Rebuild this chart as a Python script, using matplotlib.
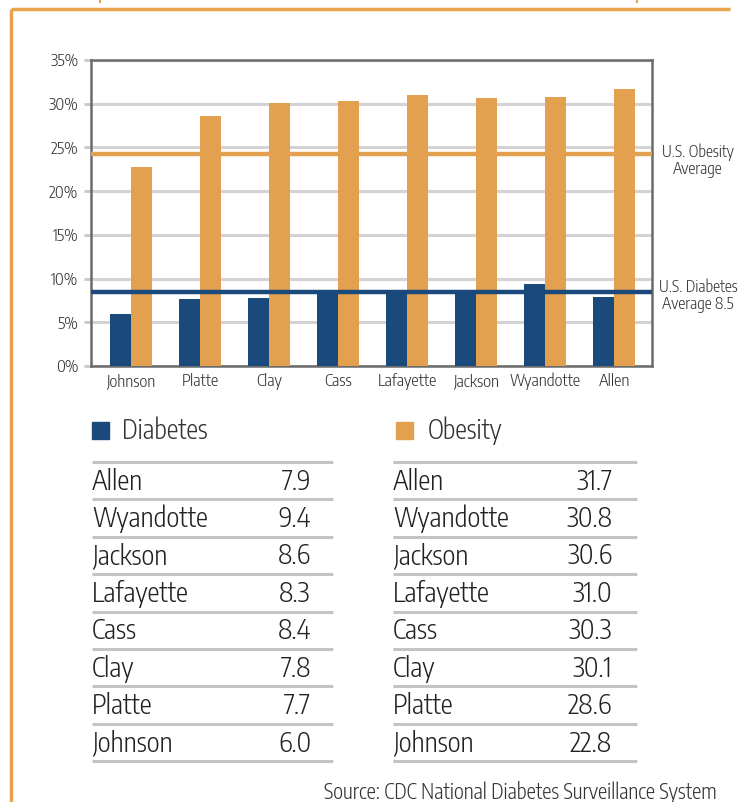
import matplotlib.pyplot as plt

plt.rcParams['font.family'] = ['Encode Sans Condensed', 'DejaVu Sans']
plt.rcParams['font.weight'] = 300

counties = ["Johnson", "Platte", "Clay", "Cass", "Lafayette", "Jackson", "Wyandotte", "Allen"]
diabetes = [6.0, 7.7, 7.8, 8.4, 8.3, 8.6, 9.4, 7.9]
obesity = [22.8, 28.6, 30.1, 30.3, 31.0, 30.6, 30.8, 31.7]
us_obesity_avg = 24.3
us_diabetes_avg = 8.5
yticks = [0, 5, 10, 15, 20, 25, 30, 35]

BLUE = "#1a4a7c"
ORANGE = "#e3a04e"
FRAME = "#e9a24c"
W, H = 755, 802

fig = plt.figure(figsize=(W / 100, H / 100), dpi=100)

# background layer in pixel coordinates for frame, tables and notes
bg = fig.add_axes([0, 0, 1, 1])
bg.set_xlim(0, W)
bg.set_ylim(H, 0)
bg.axis("off")
bg.plot([11, 730], [9, 9], color=FRAME, lw=2.5, solid_capstyle="butt")
bg.plot([11, 11], [9, H], color=FRAME, lw=2.5, solid_capstyle="butt")
bg.plot([100, 100], [0, 2], color=FRAME, lw=1.5)
bg.plot([637, 637], [0, 2], color=FRAME, lw=1.5)

# main chart
l, r, t, b = 91, 652, 60, 366
ax = fig.add_axes([l / W, 1 - b / H, (r - l) / W, (b - t) / H])
x = list(range(len(counties)))
bw = 0.30
ax.bar([i - bw / 2 for i in x], diabetes, width=bw, color=BLUE, zorder=3)
ax.bar([i + bw / 2 for i in x], obesity, width=bw, color=ORANGE, zorder=3)
ax.axhline(us_obesity_avg, color=ORANGE, lw=3.2, zorder=4)
ax.axhline(us_diabetes_avg, color=BLUE, lw=3.2, zorder=4)
ax.set_xlim(-0.58, 7.55)
ax.set_ylim(0, 35)
ax.set_yticks(yticks)
ax.set_yticklabels([f"{v}%" for v in yticks], fontsize=12, color="#333333")
ax.set_xticks(x)
ax.set_xticklabels(counties, fontsize=12, color="#333333")
ax.tick_params(axis="x", length=0, pad=5)
ax.tick_params(axis="y", length=5, width=2, color="#c8c8c8", pad=4)
ax.grid(axis="y", color="#d3d3d3", lw=2.2, zorder=0)
for s in ax.spines.values():
    s.set_color("#6b6b6b")
    s.set_linewidth(1.8)

bg.text(698, 161, "U.S. Obesity\nAverage", ha="center", va="center",
        fontsize=11.5, color="#333333", linespacing=1.0)
bg.text(698, 296, "U.S. Diabetes\nAverage 8.5", ha="center", va="center",
        fontsize=11.5, color="#333333", linespacing=1.0)

# legend keys
bg.add_patch(plt.Rectangle((92, 422), 17, 17, color=BLUE))
bg.text(122, 431, "Diabetes", va="center", fontsize=19, color="#333333")
bg.add_patch(plt.Rectangle((396, 422), 17, 17, color=ORANGE))
bg.text(428, 431, "Obesity", va="center", fontsize=19, color="#333333")

# value tables, listed from Allen back to Johnson
rows = list(reversed(range(len(counties))))
tables = [(92, 333, 311, diabetes), (393, 637, 612, obesity)]
top = 462
pitch = 37.4
for x0, x1, xv, vals in tables:
    bg.plot([x0, x1], [top, top], color="#c4c4c4", lw=2.2, solid_capstyle="butt")
    for k, i in enumerate(rows):
        yc = top + pitch * k + pitch / 2 + 1
        bg.text(x0, yc, counties[i], va="center", fontsize=19.5, color="#222222")
        bg.text(xv, yc, f"{vals[i]:.1f}", va="center", ha="right", fontsize=19.5, color="#222222")
        yl = top + pitch * (k + 1)
        bg.plot([x0, x1], [yl, yl], color="#c4c4c4", lw=2.2, solid_capstyle="butt")

bg.text(717, 792, "Source: CDC National Diabetes Surveillance System", ha="right",
        va="center", fontsize=15, color="#333333")

fig.savefig("out.png", dpi=100)
